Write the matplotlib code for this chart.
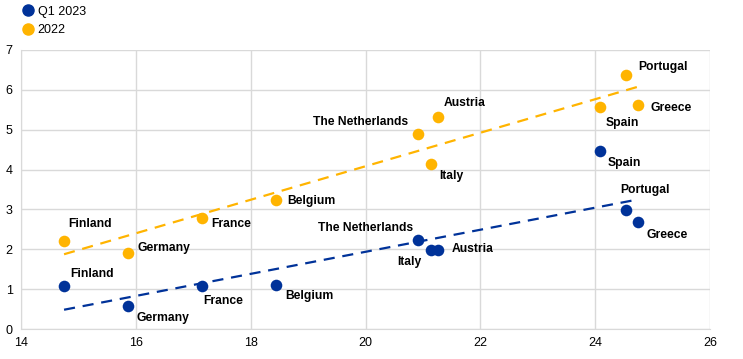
import numpy as np
import matplotlib
matplotlib.use("Agg")
import matplotlib.pyplot as plt
from matplotlib.lines import Line2D

plt.rcParams['font.family'] = ['Liberation Sans', 'DejaVu Sans']

countries = ["Finland", "Germany", "France", "Belgium", "The Netherlands",
             "Austria", "Italy", "Spain", "Portugal", "Greece"]
x_vals = [14.75, 15.86, 17.15, 18.44, 20.92, 21.26, 21.14, 24.09, 24.54, 24.75]
y_2022 = [2.21, 1.91, 2.78, 3.24, 4.89, 5.32, 4.14, 5.57, 6.37, 5.62]
y_q1_2023 = [1.08, 0.58, 1.08, 1.10, 2.23, 1.98, 1.98, 4.47, 2.99, 2.68]
series_names = ["Q1 2023", "2022"]
x_ticks = [14, 16, 18, 20, 22, 24, 26]
y_ticks = [0, 1, 2, 3, 4, 5, 6, 7]

BLUE = "#003299"
ORANGE = "#FFB400"

# label offsets in pixels (dx, dy) and horizontal alignment
off_2022 = {"Finland": (4, 17, 'left'), "Germany": (10, 5, 'left'), "France": (9, -6, 'left'),
            "Belgium": (11, -1, 'left'), "The Netherlands": (-10, 12, 'right'),
            "Austria": (6, 14, 'left'), "Italy": (8, -12, 'left'), "Spain": (5, -16, 'left'),
            "Portugal": (12, 8, 'left'), "Greece": (12, -3, 'left')}
off_2023 = {"Finland": (6, 12, 'left'), "Germany": (9, -12, 'left'), "France": (1, -15, 'left'),
            "Belgium": (9, -11, 'left'), "The Netherlands": (-5, 12, 'right'),
            "Austria": (14, 1, 'left'), "Italy": (-9, -12, 'right'), "Spain": (7, -12, 'left'),
            "Portugal": (-6, 20, 'left'), "Greece": (8, -13, 'left')}

fig = plt.figure(figsize=(7.43, 3.59), dpi=100)
ax = fig.add_axes([21/743, 30/359, 689/743, 279/359])

x = np.array(x_vals)
for yv, col in [(y_2022, ORANGE), (y_q1_2023, BLUE)]:
    yv = np.array(yv)
    k, b = np.polyfit(x, yv, 1)
    xs = np.array([x.min(), x.max()])
    ax.plot(xs, k * xs + b, color=col, lw=1.6, dashes=(5, 3.5), zorder=2)

ax.scatter(x, y_2022, s=70, color=ORANGE, zorder=3, linewidths=0)
ax.scatter(x, y_q1_2023, s=70, color=BLUE, zorder=3, linewidths=0)

for yv, offs in [(y_2022, off_2022), (y_q1_2023, off_2023)]:
    for c, xv, yy in zip(countries, x_vals, yv):
        dx, dy, ha = offs[c]
        ax.annotate(c, (xv, yy), xytext=(dx, dy), textcoords='offset pixels',
                    ha=ha, va='center', fontsize=8.7, fontweight='bold', color='black')

ax.set_xlim(14, 26)
ax.set_ylim(0, 7)
ax.set_xticks(x_ticks)
ax.set_yticks(y_ticks)
ax.grid(True, color='#d9d9d9', lw=1)
ax.set_axisbelow(True)
for s in ax.spines.values():
    s.set_visible(False)
ax.spines['left'].set_visible(True)
ax.spines['bottom'].set_visible(True)
ax.spines['left'].set_color('#d9d9d9')
ax.spines['bottom'].set_color('#d9d9d9')
ax.tick_params(length=0, labelsize=9, pad=6)

handles = [Line2D([], [], marker='o', ls='', color=BLUE, markersize=8),
           Line2D([], [], marker='o', ls='', color=ORANGE, markersize=8)]
fig.legend(handles, series_names, loc='upper left', bbox_to_anchor=(0.012, 1.016),
           frameon=False, fontsize=9, handletextpad=0.2, labelspacing=0.55,
           handlelength=1.2)

fig.savefig("out.png", dpi=100)
